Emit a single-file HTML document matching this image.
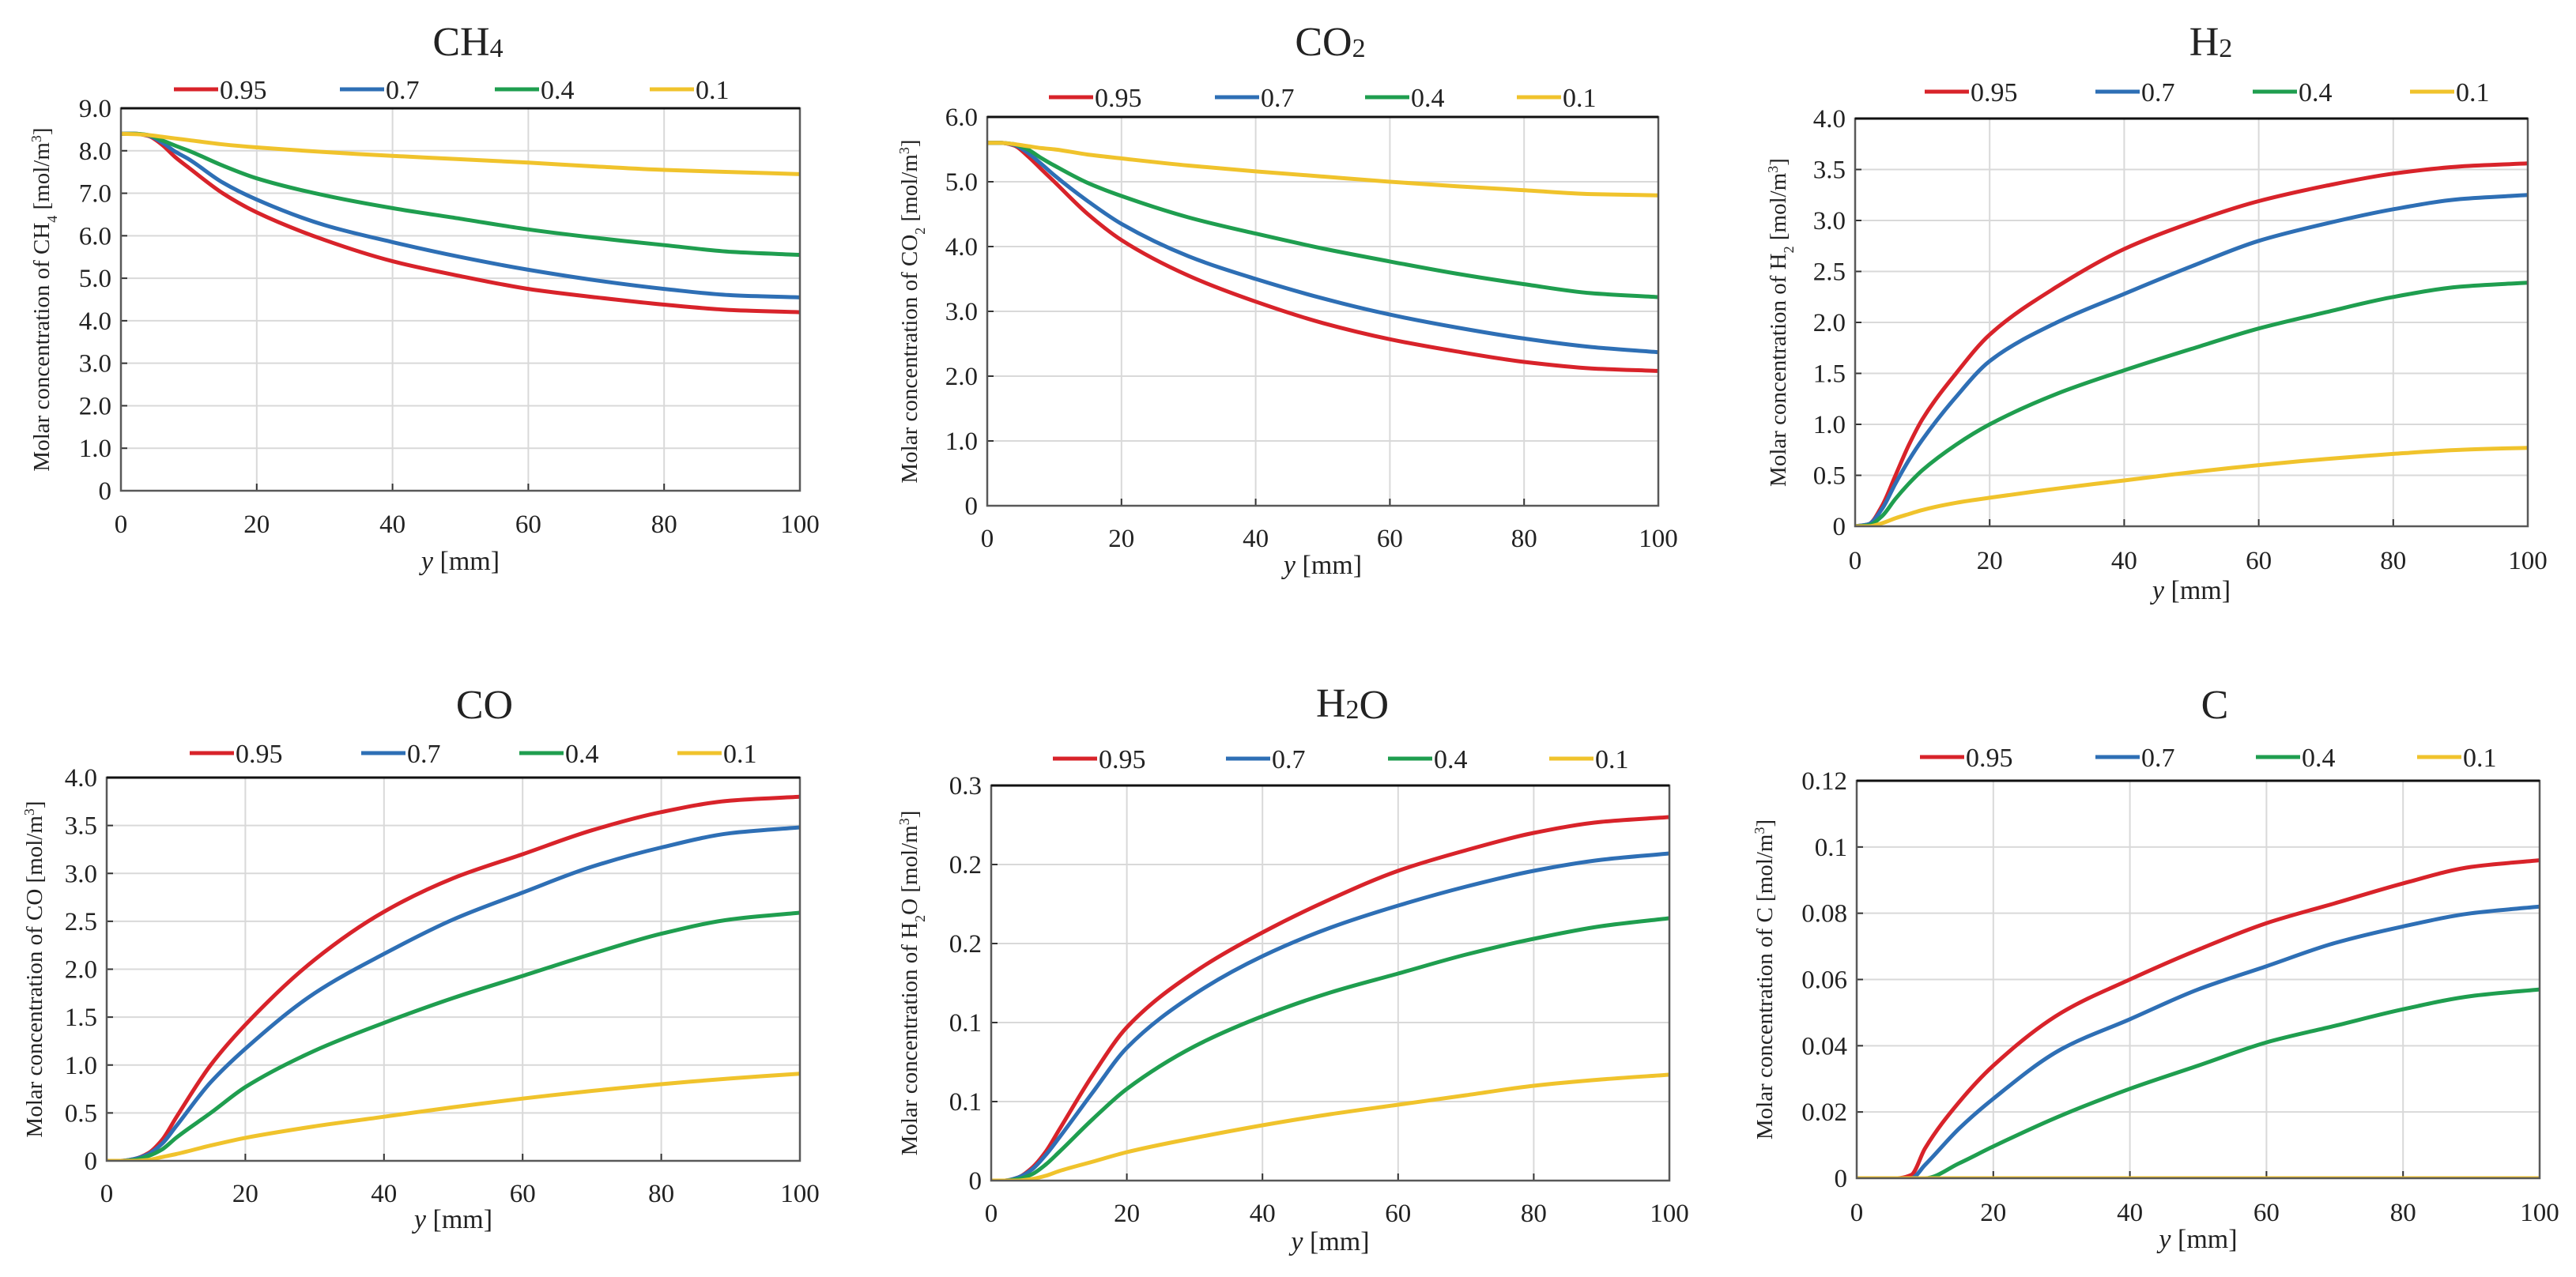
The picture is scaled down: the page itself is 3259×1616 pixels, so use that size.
<!DOCTYPE html>
<html><head><meta charset="utf-8">
<style>
html,body{margin:0;padding:0;background:#fff;}
svg{display:block;}
text{font-family:"Liberation Serif",serif;fill:#222;}
</style></head>
<body>
<svg id="fig" width="3259" height="1616" viewBox="0 0 3259 1616" xmlns="http://www.w3.org/2000/svg"></svg>
<script>
// shared data
const xs = [0,2,4,6,8,10,15,20,30,40,50,60,70,80,90,100];
const seriesNames = ["0.95","0.7","0.4","0.1"];
const seriesColors = ["#d8232a","#2e6fb5","#1f9e4f","#f0c32c"];
const xTicks = [0,20,40,60,80,100];

const ch4_095 = [8.4,8.4,8.35,8.15,7.85,7.6,7.0,6.55,5.9,5.4,5.05,4.75,4.55,4.38,4.25,4.2];
const ch4_07  = [8.4,8.4,8.36,8.2,7.98,7.8,7.25,6.85,6.25,5.85,5.5,5.2,4.95,4.75,4.6,4.55];
const ch4_04  = [8.4,8.4,8.37,8.25,8.12,8.0,7.65,7.35,6.95,6.65,6.4,6.15,5.95,5.78,5.62,5.55];
const ch4_01  = [8.4,8.39,8.37,8.33,8.29,8.25,8.15,8.08,7.97,7.88,7.8,7.72,7.63,7.55,7.5,7.45];
const ch4Ticks = [0,1,2,3,4,5,6,7,8,9];
const ch4TickLabels = ["0","1.0","2.0","3.0","4.0","5.0","6.0","7.0","8.0","9.0"];

const co2_095 = [5.6,5.6,5.56,5.4,5.2,5.0,4.5,4.1,3.55,3.15,2.82,2.57,2.38,2.22,2.12,2.08];
const co2_07  = [5.6,5.6,5.57,5.45,5.28,5.1,4.7,4.35,3.85,3.5,3.2,2.95,2.75,2.58,2.45,2.37];
const co2_04  = [5.6,5.6,5.58,5.5,5.37,5.25,4.98,4.78,4.45,4.2,3.97,3.77,3.58,3.42,3.28,3.22];
const co2_01  = [5.6,5.6,5.58,5.55,5.52,5.5,5.42,5.36,5.25,5.16,5.08,5.0,4.93,4.87,4.81,4.79];
const co2Ticks = [0,1,2,3,4,5,6];
const co2TickLabels = ["0","1.0","2.0","3.0","4.0","5.0","6.0"];

const h2_095 = [0,0.02,0.2,0.5,0.8,1.05,1.5,1.88,2.35,2.72,2.98,3.19,3.34,3.46,3.53,3.56];
const h2_07  = [0,0.02,0.17,0.42,0.65,0.85,1.27,1.62,2.0,2.28,2.55,2.8,2.97,3.11,3.21,3.25];
const h2_04  = [0,0.01,0.1,0.27,0.42,0.55,0.8,1.0,1.3,1.53,1.74,1.94,2.1,2.25,2.35,2.39];
const h2_01  = [0,0,0.03,0.08,0.12,0.16,0.23,0.28,0.37,0.45,0.53,0.6,0.66,0.71,0.75,0.77];
const h2Ticks = [0,0.5,1,1.5,2,2.5,3,3.5,4];
const h2TickLabels = ["0","0.5","1.0","1.5","2.0","2.5","3.0","3.5","4.0"];

const co_095 = [0,0,0.02,0.08,0.22,0.45,1.0,1.42,2.1,2.6,2.95,3.2,3.45,3.64,3.76,3.8];
const co_07  = [0,0,0.02,0.07,0.18,0.36,0.82,1.17,1.75,2.16,2.52,2.8,3.07,3.27,3.42,3.48];
const co_04  = [0,0,0.01,0.05,0.12,0.24,0.5,0.77,1.15,1.44,1.7,1.93,2.16,2.37,2.52,2.59];
const co_01  = [0,0,0,0.01,0.04,0.07,0.16,0.24,0.36,0.46,0.56,0.65,0.73,0.8,0.86,0.91];
const coTicks = [0,0.5,1,1.5,2,2.5,3,3.5,4];
const coTickLabels = ["0","0.5","1.0","1.5","2.0","2.5","3.0","3.5","4.0"];

const h2o_095 = [0,0,0.002,0.008,0.018,0.032,0.067,0.097,0.132,0.157,0.178,0.196,0.209,0.220,0.227,0.230];
const h2o_07  = [0,0,0.002,0.007,0.016,0.027,0.056,0.084,0.118,0.142,0.160,0.174,0.186,0.196,0.203,0.207];
const h2o_04  = [0,0,0.001,0.004,0.010,0.018,0.039,0.058,0.085,0.104,0.119,0.131,0.143,0.153,0.161,0.166];
const h2o_01  = [0,0,0,0.001,0.003,0.006,0.012,0.018,0.027,0.035,0.042,0.048,0.054,0.060,0.064,0.067];
const h2oTicks = [0,0.05,0.1,0.15,0.2,0.25];
const h2oTickLabels = ["0","0.1","0.1","0.2","0.2","0.3"];

const c_095 = [0,0,0,0,0.001,0.009,0.023,0.034,0.050,0.060,0.069,0.077,0.083,0.089,0.094,0.096];
const c_07  = [0,0,0,0,0,0.004,0.015,0.024,0.039,0.048,0.057,0.064,0.071,0.076,0.080,0.082];
const c_04  = [0,0,0,0,0,0,0.0045,0.0096,0.019,0.027,0.034,0.041,0.046,0.051,0.055,0.057];
const c_01  = [0,0,0,0,0,0,0,0,0,0,0,0,0,0,0,0];
const cTicks = [0,0.02,0.04,0.06,0.08,0.1,0.12];
const cTickLabels = ["0","0.02","0.04","0.06","0.08","0.1","0.12"];

const NS = "http://www.w3.org/2000/svg";
const fig = document.getElementById('fig');
function mk(tag, attrs, parent){
  const e = document.createElementNS(NS, tag);
  for (const k in attrs) e.setAttribute(k, attrs[k]);
  (parent||fig).appendChild(e);
  return e;
}
// monotone cubic (Fritsch-Carlson) in pixel space
function smoothPath(pts){
  const n = pts.length;
  const dx=[], dy=[], m=[];
  for (let i=0;i<n-1;i++){ dx.push(pts[i+1][0]-pts[i][0]); dy.push(pts[i+1][1]-pts[i][1]); m.push(dy[i]/dx[i]); }
  const t = new Array(n);
  t[0]=m[0]; t[n-1]=m[n-2];
  for (let i=1;i<n-1;i++){
    if (m[i-1]*m[i] <= 0) t[i]=0;
    else { const w1=2*dx[i]+dx[i-1], w2=dx[i]+2*dx[i-1]; t[i]=(w1+w2)/(w1/m[i-1]+w2/m[i]); }
  }
  let d = "M" + pts[0][0].toFixed(1) + "," + pts[0][1].toFixed(1);
  for (let i=0;i<n-1;i++){
    const h = dx[i];
    d += " C"+(pts[i][0]+h/3).toFixed(1)+","+(pts[i][1]+t[i]*h/3).toFixed(1)+" "+(pts[i+1][0]-h/3).toFixed(1)+","+(pts[i+1][1]-t[i+1]*h/3).toFixed(1)+" "+pts[i+1][0].toFixed(1)+","+pts[i+1][1].toFixed(1);
  }
  return d;
}

function chart(cfg){
  const g = mk('g', {});
  
  
  const ymax = cfg.ticks[cfg.ticks.length-1];
  const X = v => cfg.L + (v/100)*(cfg.R-cfg.L);
  const Y = v => cfg.B - (v/ymax)*(cfg.B-cfg.T);

  const t = mk('text', {x:cfg.tx, y:cfg.ty, 'font-size':52, 'text-anchor':'middle'}, g);
  
  
  t.innerHTML = cfg.title;

  cfg.ticks.forEach((v,i)=>{
    if (i>0 && i<cfg.ticks.length-1){
      const gl = mk('line',{x1:cfg.L,x2:cfg.R,y1:Y(v),y2:Y(v),stroke:'#d9d9d9','stroke-width':2},g);
      
      
    }
    const tk = mk('line',{x1:cfg.L,x2:cfg.L+8,y1:Y(v),y2:Y(v),stroke:'#333','stroke-width':2},g);
    
    
    const lb = mk('text',{x:cfg.L-12,y:Y(v)+11,'font-size':33,'text-anchor':'end'},g);
    
    
    lb.textContent = cfg.tickLabels[i];
  });
  xTicks.forEach((v,i)=>{
    if (i>0 && i<xTicks.length-1){
      const gl = mk('line',{x1:X(v),x2:X(v),y1:cfg.T,y2:cfg.B,stroke:'#d9d9d9','stroke-width':2},g);
      
      
    }
    const tk = mk('line',{x1:X(v),x2:X(v),y1:cfg.B,y2:cfg.B-9,stroke:'#333','stroke-width':2},g);
    
    
    const lb = mk('text',{x:X(v),y:cfg.xly,'font-size':33,'text-anchor':'middle'},g);
    
    
    lb.textContent = String(v);
  });

  const clipId = 'clip-' + cfg.key;
  const cp = mk('clipPath',{id:clipId},g);
  mk('rect',{x:cfg.L,y:cfg.T-4,width:cfg.R-cfg.L,height:cfg.B-cfg.T+4},cp);
  cfg.series.forEach((arr,si)=>{
    const pts = xs.map((xv,i)=>[X(xv),Y(arr[i])]);
    const p = mk('path',{d:smoothPath(pts),fill:'none',stroke:seriesColors[si],'stroke-width':5,'stroke-linejoin':'round','clip-path':'url(#'+clipId+')'},g);
    
    
  });

  const fr = mk('rect',{x:cfg.L,y:cfg.T,width:cfg.R-cfg.L,height:cfg.B-cfg.T,fill:'none',stroke:'#595959','stroke-width':2.5},g);
  
  
  const topb = mk('line',{x1:cfg.L,x2:cfg.R,y1:cfg.T,y2:cfg.T,stroke:'#111','stroke-width':3},g);
  
  

  seriesNames.forEach((n,si)=>{
    const lx = cfg.lx[si];
    const le = mk('g',{},g);
    
    
    mk('line',{x1:lx,x2:lx+56,y1:cfg.ly,y2:cfg.ly,stroke:seriesColors[si],'stroke-width':5},le);
    const lt = mk('text',{x:lx+58,y:cfg.ly+12,'font-size':34},le);
    lt.textContent = n;
  });

  const xt = mk('text',{x:(cfg.L+cfg.R)/2,y:cfg.xty,'font-size':34,'text-anchor':'middle'},g);
  
  
  xt.innerHTML = '<tspan font-style="italic">y</tspan> [mm]';
  const cy = (cfg.T+cfg.B)/2;
  const yt = mk('text',{x:cfg.ytx,y:cy,'font-size':29,'text-anchor':'middle',transform:'rotate(-90 '+cfg.ytx+' '+cy+')'},g);
  
  
  yt.innerHTML = 'Molar concentration of ' + cfg.sp + ' [mol/m<tspan baseline-shift="super" font-size="18">3</tspan>]';
}

chart({key:'ch4',title:'CH<tspan font-size="34" dy="2">4</tspan>',tx:592,ty:70,L:153,R:1012,T:137,B:621,
  ticks:ch4Ticks,tickLabels:ch4TickLabels,series:[ch4_095,ch4_07,ch4_04,ch4_01],
  lx:[220,430,626,822],ly:113,xly:674,xty:721,ytx:62,sp:'CH<tspan baseline-shift="sub" font-size="18">4</tspan>'});
chart({key:'co2',title:'CO<tspan font-size="34" dy="2">2</tspan>',tx:1683,ty:70,L:1249,R:2098,T:148,B:640,
  ticks:co2Ticks,tickLabels:co2TickLabels,series:[co2_095,co2_07,co2_04,co2_01],
  lx:[1327,1537,1727,1919],ly:123,xly:692,xty:726,ytx:1160,sp:'CO<tspan baseline-shift="sub" font-size="18">2</tspan>'});
chart({key:'h2',title:'H<tspan font-size="34" dy="2">2</tspan>',tx:2797,ty:70,L:2347,R:3198,T:150,B:666,
  ticks:h2Ticks,tickLabels:h2TickLabels,series:[h2_095,h2_07,h2_04,h2_01],
  lx:[2435,2651,2850,3049],ly:116,xly:720,xty:758,ytx:2259,sp:'H<tspan baseline-shift="sub" font-size="18">2</tspan>'});
chart({key:'co',title:'CO',tx:613,ty:909,L:135,R:1012,T:984,B:1469,
  ticks:coTicks,tickLabels:coTickLabels,series:[co_095,co_07,co_04,co_01],
  lx:[240,457,657,857],ly:953,xly:1521,xty:1554,ytx:53,sp:'CO'});
chart({key:'h2o',title:'H<tspan font-size="34" dy="2">2</tspan>O',tx:1711,ty:907,L:1254,R:2112,T:994,B:1494,
  ticks:h2oTicks,tickLabels:h2oTickLabels,series:[h2o_095,h2o_07,h2o_04,h2o_01],
  lx:[1332,1551,1756,1960],ly:960,xly:1546,xty:1582,ytx:1160,sp:'H<tspan baseline-shift="sub" font-size="18">2</tspan>O'});
chart({key:'c',title:'C',tx:2802,ty:909,L:2349,R:3213,T:988,B:1491,
  ticks:cTicks,tickLabels:cTickLabels,series:[c_095,c_07,c_04,c_01],
  lx:[2429,2651,2854,3058],ly:958,xly:1545,xty:1579,ytx:2242,sp:'C '});
</script>
</body></html>
